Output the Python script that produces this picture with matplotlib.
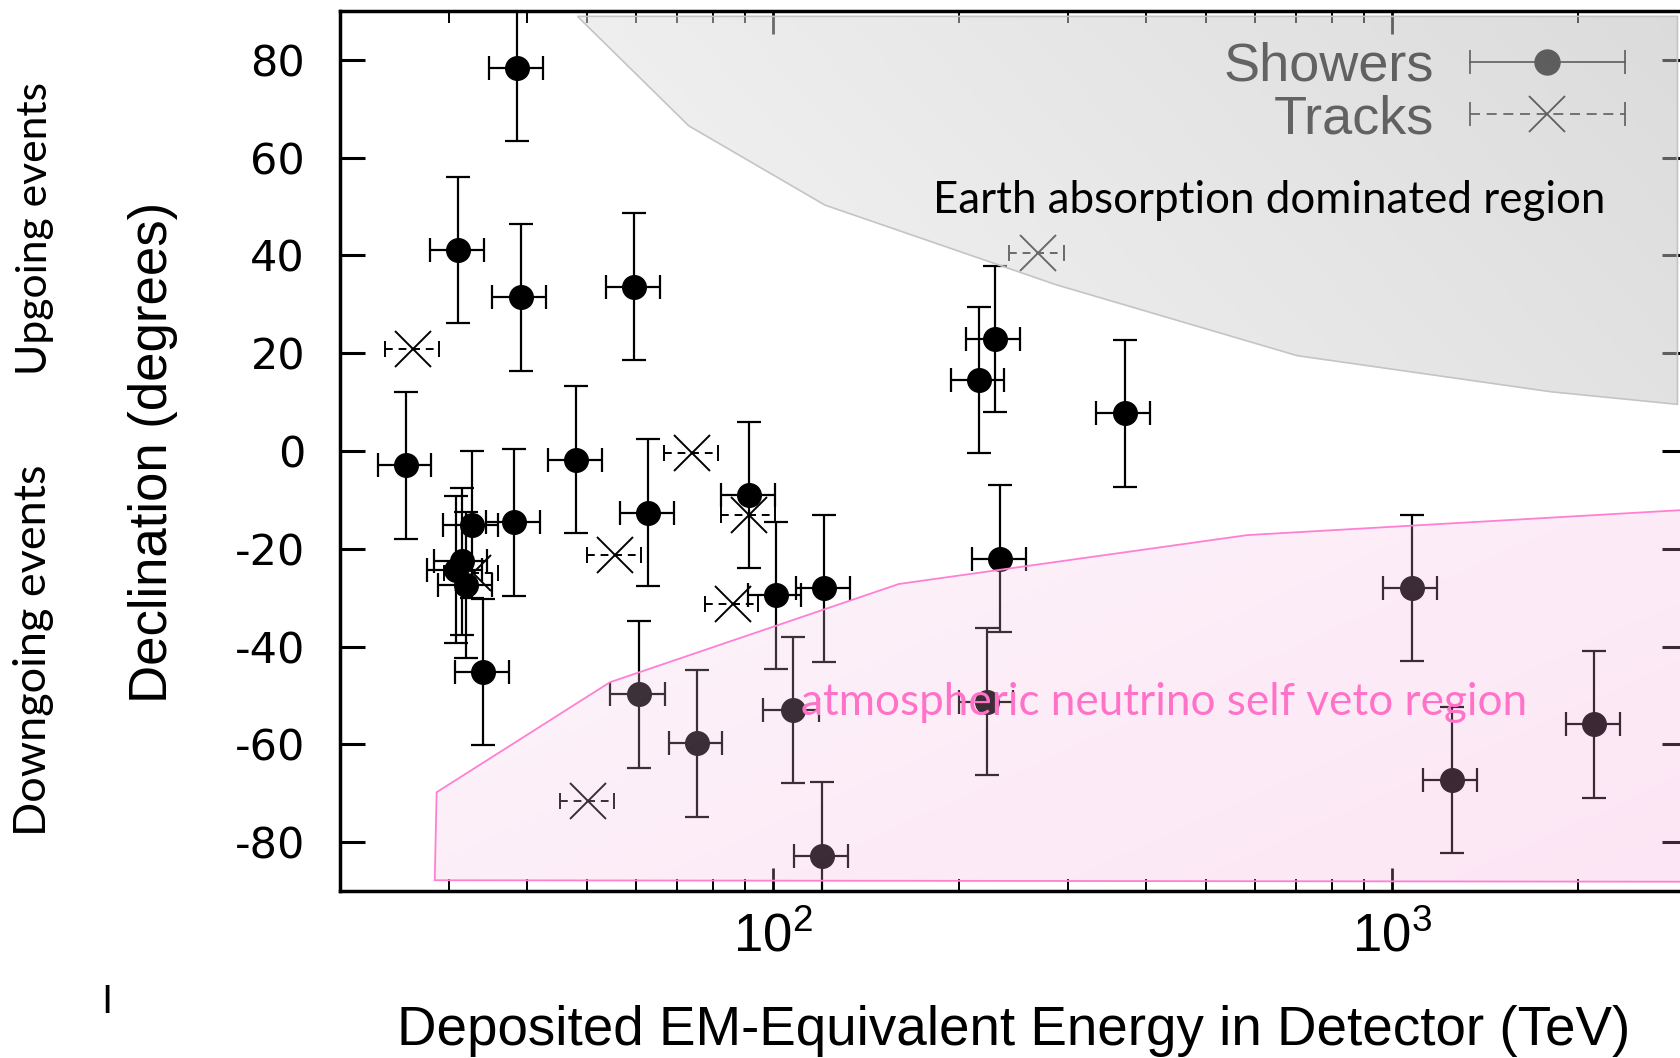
import numpy as np
import matplotlib
matplotlib.use('Agg')
import matplotlib.pyplot as plt
from matplotlib import font_manager
from matplotlib.lines import Line2D
from matplotlib.patches import Polygon
from matplotlib.legend_handler import HandlerBase
from matplotlib.ticker import NullFormatter

# shower events: deposited energy (TeV) and declination (deg)
shower_energy = [38.6, 31.0, 39.1, 59.7, 228, 215, 25.5, 48.1, 370, 32.6,
                 38.2, 62.8, 91.6, 31.4, 30.7, 31.9, 34.0, 101, 121, 233,
                 60.7, 75.3, 107.5, 120, 222, 1076, 1249, 2121]
shower_energy_err = [3.9, 3.1, 3.9, 6.0, 23, 21, 2.5, 4.8, 37, 3.3,
                     3.8, 6.3, 9.2, 3.1, 3.1, 3.2, 3.4, 10, 12, 23,
                     6.1, 7.5, 11, 12, 22, 108, 125, 212]
shower_dec = [78.4, 41.1, 31.4, 33.6, 22.9, 14.5, -2.9, -1.8, 7.7, -15.1,
              -14.6, -12.6, -9.0, -22.6, -24.3, -27.4, -45.2, -29.5, -28.1, -22.0,
              -49.8, -59.8, -53.0, -82.8, -51.3, -28.0, -67.3, -55.9]
shower_dec_err = [15, 15, 15, 15, 15, 15, 15, 15, 15, 15,
                  15, 15, 15, 15, 15, 15, 15, 15, 15, 15,
                  15, 15, 15, 15, 15, 15, 15, 15]

# track events
track_energy = [26.2, 74.0, 91.6, 55.6, 32.7, 86.1, 50.3, 268]
track_energy_err = [2.6, 7.4, 9.2, 5.6, 3.3, 8.6, 5.0, 27]
track_dec = [20.8, -0.4, -13.1, -21.3, -25.0, -31.2, -71.6, 40.4]

# region outlines
earth_energy = [48.3, 73.1, 121.3, 286.8, 703, 1811, 2893, 2893]
earth_dec = [88.9, 66.5, 50.3, 34.0, 19.5, 12.1, 9.55, 88.9]
veto_energy = [28.4, 28.6, 54.5, 159.7, 584, 2931, 2931]
veto_dec = [-87.8, -69.8, -47.3, -27.2, -17.2, -12.1, -88.1]

dec_ticks = [-80, -60, -40, -20, 0, 20, 40, 60, 80]


def pick_font(name, fallback):
    try:
        font_manager.findfont(name, fallback_to_default=False)
        return name
    except ValueError:
        return fallback


narrow = pick_font('Liberation Sans Narrow', 'Liberation Sans')
humanist = 'Lato'

plt.rcParams['font.family'] = ['Liberation Sans', 'DejaVu Sans']
plt.rcParams['axes.unicode_minus'] = False

W, H = 1681, 1058


def fx(px):
    return px / W


def fy(py):
    return 1 - py / H


class ErrbarHandler(HandlerBase):
    def __init__(self, marker, ms, mew, ls):
        super().__init__()
        self.marker, self.ms, self.mew, self.ls = marker, ms, mew, ls

    def create_artists(self, legend, orig_handle, xdescent, ydescent,
                       width, height, fontsize, trans):
        y = height / 2 - ydescent
        x0, x1 = -xdescent, width - xdescent
        bar = Line2D([x0, x1], [y, y], color='black', lw=1.2, ls=self.ls)
        caps = Line2D([x0, x1], [y, y], ls='none', marker='|', ms=17,
                      mew=1.2, color='black')
        mark = Line2D([(x0 + x1) / 2], [y], ls='none', marker=self.marker,
                      ms=self.ms, mew=self.mew, color='black')
        for art in (bar, caps, mark):
            art.set_transform(trans)
        return [bar, caps, mark]


fig = plt.figure(figsize=(W / 100, H / 100), dpi=100)
ax = fig.add_axes([fx(340.5), fy(891), fx(1687.2) - fx(340.5), fy(11) - fy(891)])
ax.set_xscale('log')
ax.set_xlim(20, 3000)
ax.set_ylim(-90, 90)
ax.set_autoscale_on(False)

# data
eb_sh = ax.errorbar(shower_energy, shower_dec, xerr=shower_energy_err, yerr=shower_dec_err,
                    fmt='o', ms=17, color='black', ecolor='black', elinewidth=1.6,
                    capsize=8.5, capthick=1.6, zorder=2)
eb_tr = ax.errorbar(track_energy, track_dec, xerr=track_energy_err,
                    fmt='x', ms=26, mew=1.4, color='black', ecolor='black', elinewidth=1.4,
                    capsize=6, capthick=1.4, zorder=2)
eb_tr[2][0].set_linestyle((0, (4, 3)))

# shaded regions as gradient overlays
u, v = np.meshgrid(np.linspace(0, 1, 400), np.linspace(0, 1, 400))

earth_poly = Polygon(np.column_stack([earth_energy, earth_dec]), closed=True,
                     facecolor='none', edgecolor='#c4c4c4', lw=1.2, zorder=3.1)
ax.add_patch(earth_poly)
t = np.clip(0.75 * (u - 0.18) / 0.82 + 0.25 * (v - 0.56) / 0.44, 0, 1)
g = 0.92 - 0.2 * t
earth_rgba = np.dstack([g, g, g, np.full_like(g, 0.5)])
im1 = ax.imshow(earth_rgba, extent=(0, 1, 0, 1), transform=ax.transAxes, origin='lower',
                aspect='auto', zorder=3, interpolation='bilinear')
im1.set_clip_path(earth_poly)

veto_poly = Polygon(np.column_stack([veto_energy, veto_dec]), closed=True,
                    facecolor='none', edgecolor='#ff80d2', lw=1.3, zorder=3.1)
ax.add_patch(veto_poly)
s = np.clip(0.6 * (u - 0.07) / 0.93 + 0.4 * (1 - v / 0.43), 0, 1)[..., None]
light = np.array([247, 215, 239]) / 255
dark = np.array([244, 150, 212]) / 255
veto_rgb = light + s * (dark - light)
veto_rgba = np.dstack([veto_rgb, np.full(u.shape, 0.25)])
im2 = ax.imshow(veto_rgba, extent=(0, 1, 0, 1), transform=ax.transAxes, origin='lower',
                aspect='auto', zorder=3, interpolation='bilinear')
im2.set_clip_path(veto_poly)

# axes styling
for sp in ax.spines.values():
    sp.set_linewidth(2.5)
ax.set_yticks(dec_ticks)
ax.tick_params(axis='y', which='major', direction='in', length=18, width=2.2,
               left=True, right=True, labelsize=31, pad=25.5, labelfontfamily='DejaVu Sans')
ax.tick_params(axis='x', which='major', direction='in', length=16.5, width=2.0,
               top=True, bottom=True, labelsize=38, pad=15, labelfontfamily=narrow)
ax.tick_params(axis='x', which='minor', direction='in', length=8.5, width=1.4,
               top=True, bottom=True)
ax.xaxis.set_minor_formatter(NullFormatter())

ax.set_xlabel('Deposited EM-Equivalent Energy in Detector (TeV)', fontsize=39.4, va='baseline')
ax.xaxis.set_label_coords(0.5, -0.175)
ax.set_ylabel('Declination (degrees)', fontsize=38, va='baseline')
ax.yaxis.set_label_coords(-0.1289, 0.4989)

# legend (sits under the grey overlay, like the original)
leg = ax.legend([eb_sh, eb_tr], ['Showers', 'Tracks'], loc='center right',
                bbox_to_anchor=(0.9535, 0.907), frameon=False, markerfirst=False,
                prop={'family': 'Liberation Sans', 'size': 39},
                handlelength=2.86, handletextpad=0.65, labelspacing=0.05,
                borderpad=0, borderaxespad=0,
                handler_map={eb_sh: ErrbarHandler('o', 18, 1.0, '-'),
                             eb_tr: ErrbarHandler('x', 26, 1.3, (0, (6, 4)))})
leg.set_zorder(2.6)

# annotations
earth_txt = ax.text((932.7 - 340.5) / 1346.7, (891 - 213.3) / 880, 'Earth absorption dominated region',
                    transform=ax.transAxes, ha='left', va='baseline', fontsize=29,
                    family=humanist, color='black', zorder=5)
veto_txt = ax.text((801 - 340.5) / 1346.7, (891 - 715) / 880, 'atmospheric neutrino self veto region',
                   transform=ax.transAxes, ha='left', va='baseline', fontsize=31,
                   family=humanist, color='#ff72c8', zorder=5)
up_txt = fig.text(fx(46.7), fy(228), 'Upgoing events', rotation=90, rotation_mode='anchor',
                  ha='center', va='baseline', fontsize=29, family=humanist)
down_txt = fig.text(fx(46), fy(650), 'Downgoing events', rotation=90, rotation_mode='anchor',
                    ha='center', va='baseline', fontsize=29, family=humanist)
fig.text(fx(107), fy(1002), 'I', ha='center', va='center', fontsize=29, family=narrow)

# scale the humanist-font texts to the widths measured on the original
renderer = fig.canvas.get_renderer()
for txt, target, vertical in [(earth_txt, 672, False), (veto_txt, 722, False),
                              (up_txt, 293, True), (down_txt, 371, True)]:
    bb = txt.get_window_extent(renderer)
    size = bb.height if vertical else bb.width
    txt.set_fontsize(txt.get_fontsize() * target / size)

fig.savefig('out.png', dpi=100)
